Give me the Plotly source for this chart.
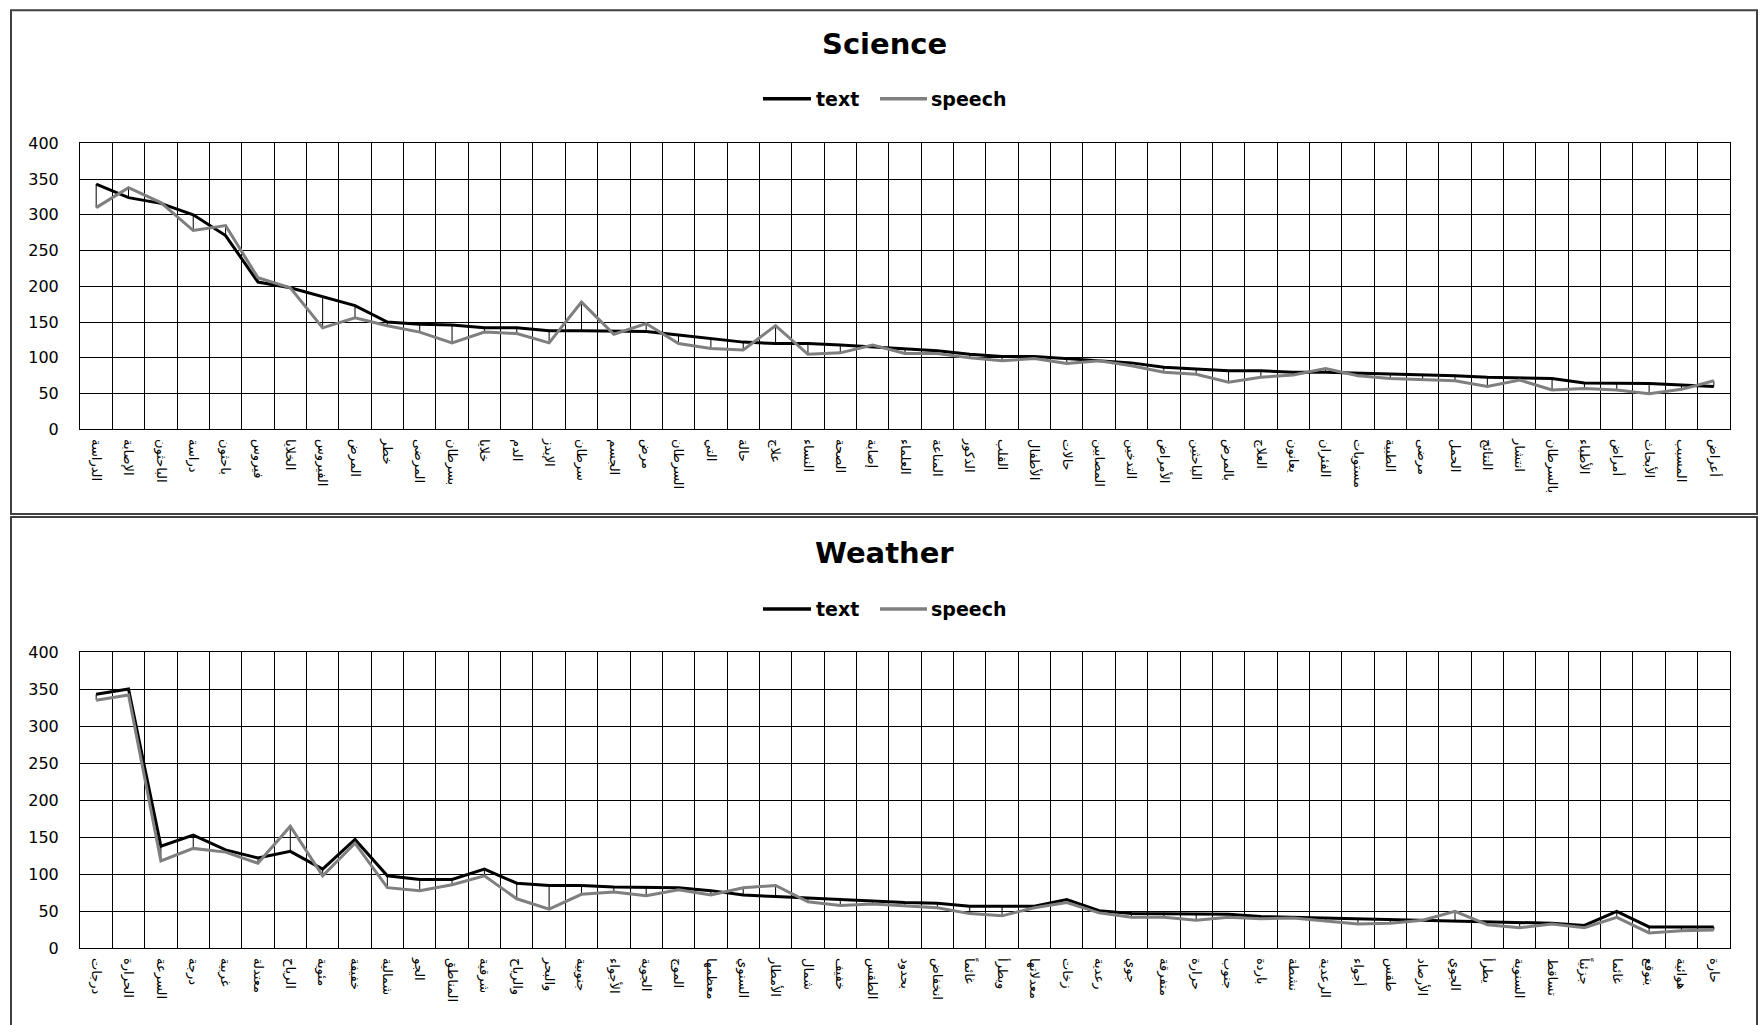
import plotly.graph_objects as go

# ---------------- data ----------------
sci_words = ["الدراسة", "الإصابة", "الباحثون", "دراسة", "باحثون", "فيروس", "الخلايا", "الفيروس",
             "المرض", "خطر", "المرضى", "بسرطان", "خلايا", "الدم", "الإيدز", "سرطان", "الجسم", "مرض",
             "السرطان", "التي", "حالة", "علاج", "النساء", "الصحة", "إصابة", "العلماء", "المناعة",
             "الذكور", "القلب", "الأطفال", "حالات", "المصابين", "التدخين", "الأمراض", "الباحثين",
             "بالمرض", "العلاج", "يعانون", "الفئران", "مستويات", "الطبية", "مرضى", "الحمل", "النتائج",
             "انتشار", "بالسرطان", "الأطباء", "أمراض", "الأبحاث", "المسبب", "أعراض"]
sci_text = [343, 324, 316, 300, 271, 206, 198, 186, 173, 150, 147, 146, 142, 142, 138, 138,
            137, 137, 132, 127, 122, 120, 120, 118, 115, 113, 110, 105, 102, 102, 99, 97, 93,
            87, 84, 82, 82, 80, 80, 79, 77, 76, 75, 73, 72, 71, 65, 65, 64, 62, 60]
sci_speech = [310, 338, 317, 278, 285, 212, 198, 142, 156, 145, 136, 121, 136, 134, 121, 178,
              133, 148, 120, 113, 111, 145, 105, 107, 118, 106, 106, 100, 96, 99, 92, 96, 89,
              80, 77, 66, 73, 76, 85, 75, 71, 70, 68, 60, 69, 55, 57, 55, 50, 56, 68]

wea_words = ["درجات", "الحرارة", "السرعة", "درجة", "غربية", "معتدلة", "الرياح", "مئوية", "خفيفة",
             "شمالية", "الجو", "المناطق", "شرقية", "والرياح", "والبحر", "جنوبية", "الأجواء", "الجوية",
             "الموج", "معظمها", "السنوي", "الأمطار", "شمال", "خفيف", "الطقس", "بحدود", "انخفاض",
             "غائماً", "ويطرأ", "معدلاتها", "زخات", "رعدية", "جوي", "متفرقة", "حرارة", "جنوب",
             "باردة", "نشطة", "الرعدية", "أجواء", "طقس", "الأرصاد", "الجوي", "يطرأ", "السنوية",
             "تساقط", "جزئياً", "غائما", "يتوقع", "هوائية", "حارة"]
wea_text = [343, 350, 138, 153, 133, 122, 131, 107, 147, 98, 93, 93, 107, 88, 85, 85, 83, 82,
            82, 78, 72, 70, 68, 66, 63, 62, 61, 57, 57, 57, 66, 51, 47, 47, 46, 46, 43, 42, 41,
            40, 39, 39, 37, 36, 36, 34, 31, 50, 29, 29, 29]
wea_speech = [335, 342, 118, 135, 130, 115, 165, 98, 142, 82, 78, 86, 98, 67, 53, 73, 76, 71,
              79, 72, 82, 85, 63, 58, 60, 58, 55, 47, 44, 55, 62, 48, 42, 42, 38, 42, 40, 41, 37,
              33, 34, 38, 50, 32, 28, 33, 28, 42, 21, 24, 25]

y_ticks = [0, 50, 100, 150, 200, 250, 300, 350, 400]
series_names = ["text", "speech"]
series_colors = ["#000000", "#7f7f7f"]
panel_titles = ["Science", "Weather"]

# ---------------- layout helpers ----------------
W, H = 1760, 1025
# the captured page appears slightly shifted/compressed vertically; compensate
Y_OFF, Y_SCALE = 8.3, 0.981


def fx(p):
    return p / W


def fy(p):
    return 1 - ((p - Y_OFF) / Y_SCALE) / H


fig = go.Figure()


def add_panel(words, text, speech, xa, ya):
    xs, ys = [], []
    for w, a, b in zip(words, text, speech):
        xs += [w, w, None]
        ys += [a, b, None]
    fig.add_trace(go.Scatter(x=xs, y=ys, mode="lines", line=dict(color="black", width=1),
                             xaxis=xa, yaxis=ya, showlegend=False, hoverinfo="skip"))
    for name, vals, col in zip(series_names, [text, speech], series_colors):
        fig.add_trace(go.Scatter(x=words, y=vals, name=name, mode="lines",
                                 line=dict(color=col, width=3), xaxis=xa, yaxis=ya,
                                 showlegend=False))


add_panel(sci_words, sci_text, sci_speech, "x", "y")
add_panel(wea_words, wea_text, wea_speech, "x2", "y2")

xcommon = dict(type="category", tickson="boundaries", showgrid=True, gridcolor="black",
               gridwidth=1, tickangle=90, ticks="", ticklabelstandoff=6,
               tickfont=dict(family="DejaVu Sans", size=13, color="black"),
               showline=True, linecolor="black", linewidth=1, mirror=True,
               domain=[fx(80), fx(1730)], range=[-0.5, 50.5])
ycommon = dict(range=[0, 400], tickvals=y_ticks, showgrid=True, gridcolor="black",
               gridwidth=1, zeroline=False, showline=True, linecolor="black", linewidth=1,
               mirror=True, ticks="", ticklabelstandoff=17,
               tickfont=dict(family="DejaVu Sans", size=16, color="black"))

fig.update_layout(
    width=W, height=H,
    margin=dict(l=0, r=0, t=0, b=0),
    paper_bgcolor="white", plot_bgcolor="white",
    showlegend=False,
    xaxis=dict(xcommon, anchor="y", categoryorder="array", categoryarray=sci_words),
    yaxis=dict(ycommon, anchor="x", domain=[fy(428.5), fy(142.5)]),
    xaxis2=dict(xcommon, anchor="y2", categoryorder="array", categoryarray=wea_words),
    yaxis2=dict(ycommon, anchor="x2", domain=[fy(947.3), fy(651)]),
)

# titles + legends (drawn per panel)
for title, ty, ly in zip(panel_titles, [43, 552], [98, 608]):
    fig.add_annotation(text="<b>%s</b>" % title, x=fx(884), y=fy(ty), xref="paper",
                       yref="paper", showarrow=False, xanchor="center", yanchor="middle",
                       font=dict(family="DejaVu Sans", size=29, color="black"))
    for name, col, (lx0, lx1, tx) in zip(series_names, series_colors,
                                         [(763, 811, 814), (880, 927, 929)]):
        fig.add_shape(type="line", xref="paper", yref="paper", x0=fx(lx0), x1=fx(lx1),
                      y0=fy(ly), y1=fy(ly), line=dict(color=col, width=3.5))
        fig.add_annotation(text="<b>%s</b>" % name, x=fx(tx), y=fy(ly), xref="paper",
                           yref="paper", showarrow=False, xanchor="left", yanchor="middle",
                           font=dict(family="DejaVu Sans", size=19, color="black"))

# chart-area borders
for (x0, y0, x1, y1) in [(11, 9.5, 1757, 513), (11, 516, 1757, 1040)]:
    fig.add_shape(type="rect", xref="paper", yref="paper", x0=fx(x0), x1=fx(x1),
                  y0=fy(y1), y1=fy(y0), line=dict(color="#404040", width=2),
                  fillcolor="rgba(0,0,0,0)")

fig.write_html(
    "out.html",
    config={"displayModeBar": False},
    post_script=(
        "var gd=document.getElementById('{plot_id}');"
        "gd.style.position='fixed';gd.style.top='0px';gd.style.left='0px';"
        "document.body.style.margin='0';document.body.style.overflow='hidden';"
        "document.documentElement.style.overflow='hidden';"
    ),
)
